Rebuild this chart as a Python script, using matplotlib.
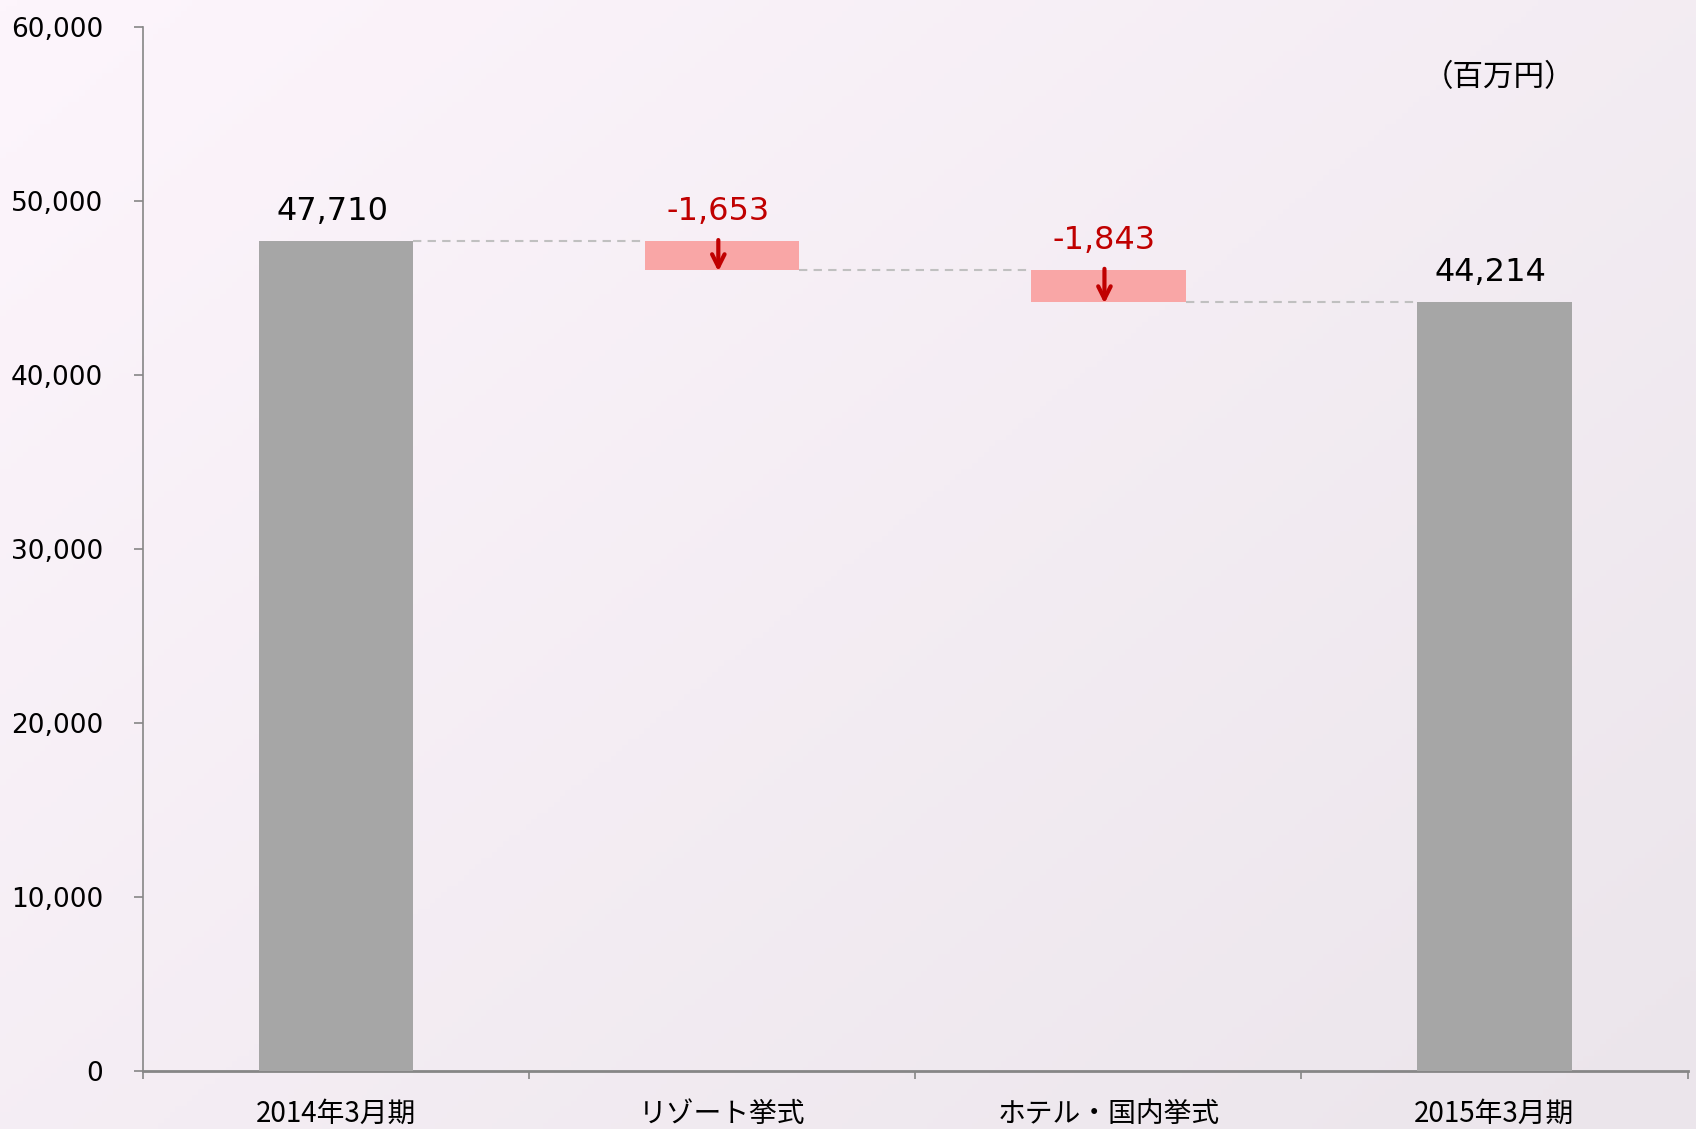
import numpy as np
import matplotlib
matplotlib.use("Agg")
import matplotlib.pyplot as plt
from matplotlib.colors import LinearSegmentedColormap

plt.rcParams['font.family'] = ['DejaVu Sans', 'Noto Sans CJK JP']

# data
categories = ["2014年3月期", "リゾート挙式", "ホテル・国内挙式", "2015年3月期"]
start_value = 47710
changes = [-1653, -1843]
end_value = 44214
value_labels = ["47,710", "-1,653", "-1,843", "44,214"]
yticks = [0, 10000, 20000, 30000, 40000, 50000, 60000]
unit_label = "（百万円）"

total_color = "#a6a6a6"
down_color = "#f9a6a6"
red = "#c00000"
axis_color = "#868686"

fig = plt.figure(figsize=(16.96, 11.29), dpi=100)

# gradient background
bg = fig.add_axes([0, 0, 1, 1], zorder=-10)
xx, yy = np.meshgrid(np.linspace(0, 1, 300), np.linspace(0, 1, 200))
grad = (xx * 0.55 + yy * 0.45)
cmap = LinearSegmentedColormap.from_list("bg", ["#fdf5fc", "#ebe5eb"])
bg.imshow(grad, cmap=cmap, aspect="auto", extent=[0, 1, 1, 0])
bg.axis("off")

ax = fig.add_axes([0.0843, 0.0514, 0.9107, 0.9246])
ax.patch.set_alpha(0)

x = np.arange(len(categories))
width = 0.4

# compute floating bars
bottoms = [0]
heights = [start_value]
level = start_value
for c in changes:
    bottoms.append(level + c)
    heights.append(-c)
    level += c
bottoms.append(0)
heights.append(end_value)
colors = [total_color] + [down_color] * len(changes) + [total_color]

ax.bar(x, heights, width, bottom=bottoms, color=colors, zorder=3)

# connectors
levels = [start_value]
lv = start_value
for c in changes:
    lv += c
    levels.append(lv)
for i, lv in enumerate(levels):
    ax.plot([x[i] + width / 2, x[i + 1] - width / 2], [lv, lv],
            ls=(0, (4, 3)), color="#c0c0c0", lw=1.5, zorder=2)

# arrows in the red bars
for i, c in enumerate(changes):
    top = bottoms[i + 1] + heights[i + 1]
    ax.annotate("", xy=(x[i + 1] - 0.01, bottoms[i + 1] - 100), xytext=(x[i + 1] - 0.01, top + 50),
                arrowprops=dict(arrowstyle="->,head_length=0.9,head_width=0.45", color=red, lw=3,
                                shrinkA=0, shrinkB=0),
                zorder=4)

# value labels
for i in range(len(categories)):
    top = bottoms[i] + heights[i]
    col = red if 0 < i < len(categories) - 1 else "black"
    ax.annotate(value_labels[i], xy=(x[i] - 0.01, top), xytext=(0, 10),
                textcoords="offset points", ha="center", va="bottom",
                fontsize=23, color=col)

ax.text(0.878, 0.952, unit_label, transform=ax.transAxes, ha="center", va="center",
        fontsize=22, family=['Noto Sans CJK JP', 'DejaVu Sans'])

ax.set_xlim(-0.5, len(categories) - 0.5)
ax.set_ylim(0, 60000)
ax.set_yticks(yticks)
ax.set_yticklabels([f"{v:,}" for v in yticks], fontsize=19)
ax.set_xticks(x)
ax.set_xticklabels(categories, fontsize=20, family=['Noto Sans CJK JP', 'DejaVu Sans'])
ax.set_xticks(np.arange(-0.5, len(categories)), minor=True)

ax.tick_params(axis="y", length=6.5, width=1.2, color=axis_color, pad=22)
ax.tick_params(axis="x", which="major", length=0, pad=20)
ax.tick_params(axis="x", which="minor", length=6, width=1.2, color=axis_color)

for s in ["top", "right"]:
    ax.spines[s].set_visible(False)
ax.spines["left"].set_color(axis_color)
ax.spines["left"].set_linewidth(1.2)
ax.spines["bottom"].set_color(axis_color)
ax.spines["bottom"].set_linewidth(2)

fig.savefig("out.png", dpi=100)
